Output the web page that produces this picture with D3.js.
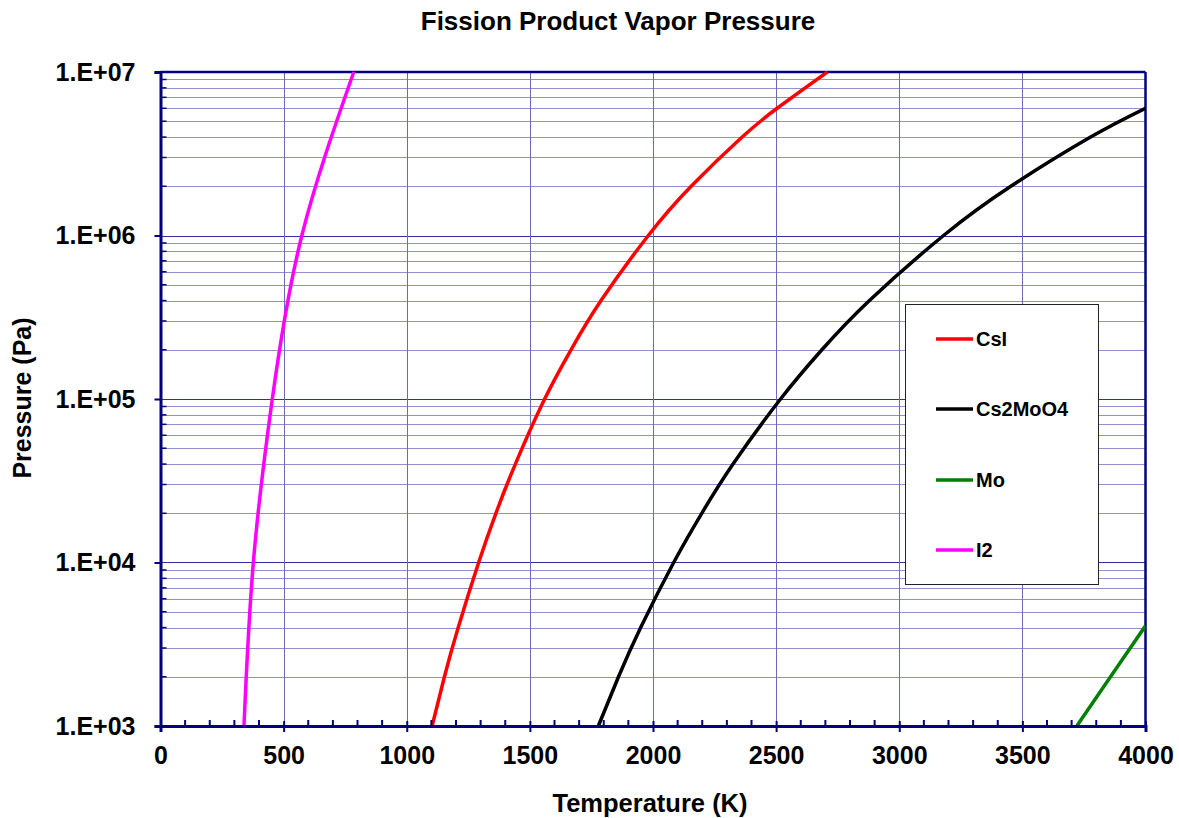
<!DOCTYPE html>
<html>
<head>
<meta charset="utf-8">
<script src="https://cdn.jsdelivr.net/npm/d3@7/dist/d3.min.js"></script>
<style>
  html, body { margin: 0; padding: 0; background: #fff; }
  svg { display: block; font-family: "Liberation Sans", Arial, sans-serif; font-weight: bold; }
</style>
</head>
<body>
<svg id="chart" width="1179" height="818"></svg>
<script>
// ---- Data ----
const seriesNames = ["CsI", "Cs2MoO4", "Mo", "I2"];
const seriesColors = ["#ff0000", "#000000", "#008000", "#ff00ff"];

// [Temperature (K), Pressure (Pa)]
const csiData = [[1103,1e3],[1153,2e3],[1209,4e3],[1292,1e4],[1362,2e4],[1441,4e4],[1560,1e5],[1667,2e5],[1789,4e5],[1981,1e6],[2155,2e6],[2362,4e6],[2504,6e6],[2708,1e7]];
const cs2moo4Data = [[1778,1e3],[1860,2e3],[1950,4e3],[2084,1e4],[2198,2e4],[2325,4e4],[2518,1e5],[2686,2e5],[2879,4e5],[3180,1e6],[3453,2e6],[3777,4e6],[4000,6e6]];
const moData = [[3721,1e3],[3858,2e3],[4000,4.1e3]];
const i2Data = [[339,1e3],[377,1e4],[454,1e5],[574,1e6],[785,1e7]];
const seriesData = [csiData, cs2moo4Data, moData, i2Data];

const xTicks = [0, 500, 1000, 1500, 2000, 2500, 3000, 3500, 4000];
const yTicks = [1e3, 1e4, 1e5, 1e6, 1e7];
const yTickLabels = ["1.E+03", "1.E+04", "1.E+05", "1.E+06", "1.E+07"];

const titleText = "Fission Product Vapor Pressure";
const xTitle = "Temperature (K)";
const yTitle = "Pressure (Pa)";

// ---- Layout ----
const svg = d3.select("#chart");
const pL = 160.5, pR = 1145.5, pT = 72, pB = 726;
const navy = "#000080";

const x = d3.scaleLinear().domain([0, 4000]).range([pL, pR]);
const y = d3.scaleLog().domain([1e3, 1e7]).range([pB, pT]);

// Minor y values
const yMinor = [];
for (let dec = 1e3; dec < 1e7; dec *= 10) for (let k = 2; k <= 9; k++) yMinor.push(dec * k);
const xMinor = d3.range(100, 4000, 100).filter(v => v % 500 !== 0);

// Grid
const grid = svg.append("g");
grid.selectAll("line.hm").data(yMinor).join("line")
  .attr("x1", pL).attr("x2", pR)
  .attr("y1", d => Math.round(y(d)) + 0.5).attr("y2", d => Math.round(y(d)) + 0.5)
  .attr("stroke", navy).attr("stroke-width", 1).attr("stroke-dasharray", "1,1").attr("opacity", 0.85);
grid.selectAll("line.hM").data(yTicks.slice(1, -1)).join("line")
  .attr("x1", pL).attr("x2", pR)
  .attr("y1", d => Math.round(y(d)) + 0.5).attr("y2", d => Math.round(y(d)) + 0.5)
  .attr("stroke", "#3030a0").attr("stroke-width", 1);
grid.selectAll("line.v").data(xTicks.slice(1, -1)).join("line")
  .attr("x1", d => Math.round(x(d)) + 0.5).attr("x2", d => Math.round(x(d)) + 0.5)
  .attr("y1", pT).attr("y2", pB)
  .attr("stroke", "#6a6ab8").attr("stroke-width", 1);

// Border (top & right)
svg.append("line").attr("x1", pL).attr("x2", pR).attr("y1", pT).attr("y2", pT)
  .attr("stroke", navy).attr("stroke-width", 2.5);
svg.append("line").attr("x1", pR).attr("x2", pR).attr("y1", pT).attr("y2", pB)
  .attr("stroke", navy).attr("stroke-width", 2.5);

// Curves
svg.append("clipPath").attr("id", "plotclip").append("rect")
  .attr("x", pL).attr("y", pT - 1).attr("width", pR - pL).attr("height", pB - pT + 2);
const line = d3.line().x(d => x(d[0])).y(d => y(d[1])).curve(d3.curveNatural);
svg.append("g").attr("clip-path", "url(#plotclip)")
  .selectAll("path").data(seriesData).join("path")
  .attr("d", d => line(d)).attr("fill", "none")
  .attr("stroke", (d, i) => seriesColors[i]).attr("stroke-width", 3.5)
  .attr("stroke-linejoin", "round");

// Axes
const xAxis = svg.append("g").attr("transform", `translate(0,${pB})`)
  .call(d3.axisBottom(x).tickValues(xTicks).tickSize(6).tickPadding(14).tickFormat(d3.format("d")));
xAxis.select(".domain").attr("stroke", navy).attr("stroke-width", 3);
xAxis.selectAll(".tick line").attr("stroke", navy).attr("stroke-width", 2).attr("y1", -5);
xAxis.selectAll(".tick text").attr("fill", "#000").style("font-size", "25px").style("font-weight", "bold")
  .style("font-family", "'Liberation Sans', Arial, sans-serif");
xAxis.selectAll("line.minor").data(xMinor).join("line").attr("class", "minor")
  .attr("x1", d => x(d)).attr("x2", d => x(d)).attr("y1", 0).attr("y2", -6)
  .attr("stroke", navy).attr("stroke-width", 2);

const yAxis = svg.append("g").attr("transform", `translate(${pL},0)`)
  .call(d3.axisLeft(y).tickValues(yTicks).tickSize(6).tickPadding(19).tickFormat((d, i) => yTickLabels[i]));
yAxis.select(".domain").attr("stroke", navy).attr("stroke-width", 3);
yAxis.selectAll(".tick line").attr("stroke", navy).attr("stroke-width", 2);
yAxis.selectAll(".tick text").attr("fill", "#000").style("font-size", "25px").style("font-weight", "bold")
  .style("font-family", "'Liberation Sans', Arial, sans-serif");
yAxis.selectAll("line.minor").data(yMinor).join("line").attr("class", "minor")
  .attr("x1", 0).attr("x2", 6).attr("y1", d => y(d)).attr("y2", d => y(d))
  .attr("stroke", navy).attr("stroke-width", 1.5);

// Titles
svg.append("text").attr("x", 618).attr("y", 30).attr("text-anchor", "middle")
  .style("font-size", "26px").text(titleText);
svg.append("text").attr("x", 650).attr("y", 812).attr("text-anchor", "middle")
  .style("font-size", "25.5px").text(xTitle);
svg.append("text").attr("transform", "translate(31,398) rotate(-90)").attr("text-anchor", "middle")
  .style("font-size", "25px").text(yTitle);

// Legend
const lg = svg.append("g");
lg.append("rect").attr("x", 905.5).attr("y", 304.5).attr("width", 193).attr("height", 280)
  .attr("fill", "#fff").attr("stroke", "#222").attr("stroke-width", 1);
const legendY = [339, 409, 480, 550];
seriesNames.forEach((name, i) => {
  lg.append("line").attr("x1", 936).attr("x2", 973).attr("y1", legendY[i]).attr("y2", legendY[i])
    .attr("stroke", seriesColors[i]).attr("stroke-width", 3.5);
  lg.append("text").attr("x", 976).attr("y", legendY[i] + 7).style("font-size", "20px").text(name);
});
</script>
</body>
</html>
